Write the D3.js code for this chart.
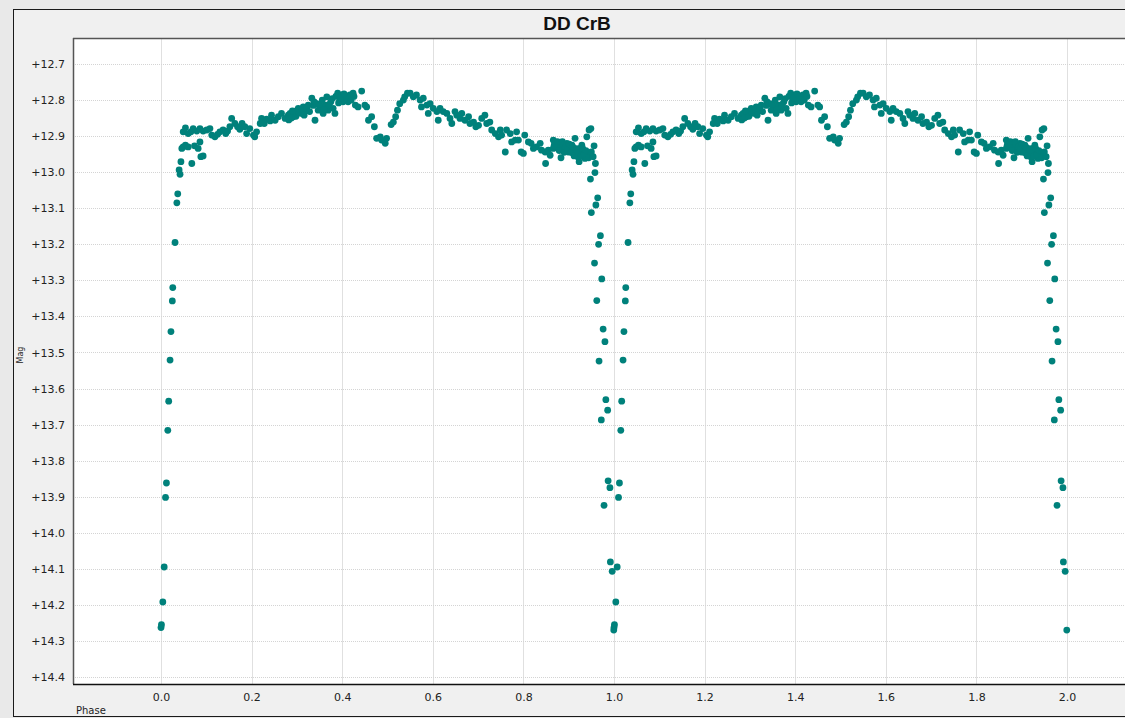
<!DOCTYPE html>
<html>
<head>
<meta charset="utf-8">
<script src="https://cdn.jsdelivr.net/npm/d3@7"></script>
<style>
  html, body { margin: 0; padding: 0; background: #e9e9e9; }
  svg { display: block; }
</style>
</head>
<body>
<svg id="chart" width="1125" height="718"></svg>
<script>
// ---- data (phase in [0,1), plotted twice: phase and phase+1) ----
const title = "DD CrB";
const xLabel = "Phase";
const yLabel = "Mag";
const phaseCycles = [0, 1];
const xTickValues = [0.0, 0.2, 0.4, 0.6, 0.8, 1.0, 1.2, 1.4, 1.6, 1.8, 2.0];
const yTickValues = [12.7, 12.8, 12.9, 13.0, 13.1, 13.2, 13.3, 13.4, 13.5, 13.6, 13.7, 13.8, 13.9, 14.0, 14.1, 14.2, 14.3, 14.4];

const phase = [
  0.000, 0.001, 0.004, 0.007, 0.010, 0.012, 0.015, 0.017, 0.020, 0.022, 0.025, 0.026, 0.031, 0.035, 0.037,
  0.040, 0.042, 0.044, 0.068, 0.046, 0.049, 0.054, 0.060, 0.074, 0.082, 0.086, 0.088, 0.093,
  0.049, 0.054, 0.060, 0.066, 0.071, 0.079, 0.086, 0.093, 0.101, 0.108, 0.112, 0.119, 0.125, 0.130,
  0.137, 0.143, 0.147, 0.152, 0.156, 0.163, 0.169, 0.174, 0.179, 0.185, 0.189, 0.196, 0.204, 0.207,
  0.211, 0.219, 0.222, 0.228, 0.233, 0.241, 0.244, 0.252, 0.259, 0.266, 0.274, 0.281,
  0.285, 0.292, 0.296, 0.303, 0.310, 0.314, 0.319, 0.325, 0.333, 0.340, 0.344, 0.347, 0.353, 0.358,
  0.362, 0.366, 0.369, 0.375, 0.380, 0.384, 0.390, 0.395, 0.399, 0.402, 0.406, 0.413, 0.417, 0.424,
  0.282, 0.288, 0.290, 0.298, 0.305, 0.312, 0.316, 0.322, 0.328, 0.336, 0.338, 0.349, 0.356, 0.360,
  0.371, 0.378, 0.386, 0.392, 0.397, 0.404, 0.410, 0.420, 0.426,
  0.429, 0.435, 0.443, 0.450, 0.454, 0.458, 0.465, 0.471, 0.476, 0.484, 0.487, 0.495, 0.498,
  0.508, 0.513, 0.518, 0.522, 0.527, 0.535, 0.538, 0.544,
  0.550, 0.557, 0.564, 0.572, 0.579, 0.575, 0.587, 0.594, 0.590, 0.601, 0.609, 0.612, 0.616, 0.623,
  0.631, 0.638, 0.642, 0.649, 0.653, 0.660, 0.664, 0.671, 0.679, 0.682, 0.690, 0.695, 0.701, 0.708,
  0.715, 0.719, 0.726, 0.730, 0.738, 0.745, 0.749, 0.752, 0.760, 0.763, 0.771, 0.774, 0.782,
  0.785, 0.789, 0.795, 0.800, 0.803, 0.811, 0.817, 0.822, 0.829, 0.837, 0.840, 0.848, 0.849, 0.855,
  0.859, 0.866, 0.866, 0.870, 0.873, 0.877, 0.881, 0.883, 0.884, 0.888, 0.892, 0.896, 0.899, 0.903,
  0.907, 0.910, 0.914, 0.915, 0.920, 0.923, 0.925, 0.929, 0.932, 0.936, 0.940, 0.942, 0.945, 0.949,
  0.868, 0.875, 0.879, 0.886, 0.890, 0.894, 0.898, 0.901, 0.905, 0.909, 0.912, 0.917, 0.921, 0.927,
  0.931, 0.934, 0.938, 0.944,
  0.950, 0.954, 0.956, 0.959, 0.958, 0.948,
  0.964, 0.960, 0.950, 0.970, 0.966, 0.957, 0.973, 0.962, 0.976, 0.980, 0.967, 0.982, 0.986, 0.972,
  0.987, 0.991, 0.978, 0.992, 0.996, 0.9995
];
const mag = [
  14.263, 14.255, 14.192, 14.095, 13.902, 13.862, 13.716, 13.635, 13.521, 13.442, 13.357, 13.320, 13.195, 13.085, 13.060,
  12.994, 13.006, 12.971, 12.976, 12.934, 12.930, 12.925, 12.930, 12.927, 12.934, 12.916, 12.957, 12.955,
  12.888, 12.877, 12.893, 12.888, 12.879, 12.886, 12.879, 12.886, 12.883, 12.879, 12.897, 12.902, 12.895, 12.888,
  12.883, 12.893, 12.886, 12.874, 12.851, 12.865, 12.874, 12.881, 12.865, 12.874, 12.893, 12.879, 12.897, 12.902,
  12.888, 12.865, 12.851, 12.865, 12.853, 12.858, 12.842, 12.856, 12.846, 12.837, 12.851, 12.842,
  12.837, 12.846, 12.831, 12.823, 12.837, 12.819, 12.828, 12.814, 12.795, 12.856, 12.810, 12.828, 12.819, 12.837,
  12.814, 12.791, 12.828, 12.805, 12.823, 12.837, 12.781, 12.800, 12.786, 12.805, 12.791, 12.805, 12.786, 12.781,
  12.855, 12.850, 12.830, 12.845, 12.835, 12.826, 12.842, 12.822, 12.832, 12.815, 12.805, 12.812, 12.800, 12.826,
  12.812, 12.796, 12.790, 12.808, 12.795, 12.783, 12.798, 12.800, 12.790,
  12.814, 12.819, 12.775, 12.814, 12.819, 12.856, 12.846, 12.874, 12.906, 12.902, 12.911, 12.920, 12.906,
  12.868, 12.861, 12.846, 12.828, 12.810, 12.800, 12.791, 12.781,
  12.781, 12.791, 12.786, 12.800, 12.795, 12.819, 12.814, 12.810, 12.837, 12.823, 12.832, 12.856, 12.823, 12.832,
  12.837, 12.851, 12.865, 12.832, 12.842, 12.851, 12.837, 12.856, 12.846, 12.865, 12.861, 12.874, 12.870, 12.851,
  12.842, 12.865, 12.861, 12.883, 12.893, 12.902, 12.883, 12.897, 12.944, 12.883, 12.893, 12.916, 12.911,
  12.888, 12.911, 12.944, 12.948, 12.897, 12.916, 12.920, 12.934, 12.930, 12.920, 12.939, 12.944, 12.976, 12.939,
  12.953, 12.911, 12.934, 12.920, 12.930, 12.934, 12.920, 12.960, 12.930, 12.925, 12.934, 12.920, 12.944, 12.934,
  12.925, 12.948, 12.906, 12.939, 12.957, 12.971, 12.934, 12.925, 12.944, 12.962, 12.902, 12.948, 12.883, 12.879,
  12.925, 12.915, 12.940, 12.915, 12.945, 12.928, 12.935, 12.922, 12.945, 12.930, 12.955, 12.935, 12.945, 12.955,
  12.935, 12.950, 12.940, 12.960,
  12.944, 12.957, 12.927, 12.976, 13.001, 13.019,
  13.071, 13.091, 13.112, 13.176, 13.200, 13.252, 13.296, 13.356, 13.435, 13.470, 13.524, 13.631, 13.660, 13.687,
  13.856, 13.875, 13.924, 14.081, 14.107, 14.270
];

// ---- layout ----
const svg = d3.select("#chart");
const W = 1125, H = 718;
const plot = { left: 73, top: 38, right: 1140, bottom: 684 };

const x = d3.scaleLinear().domain([0, 2]).range([161, 1067]);
const y = d3.scaleLinear().domain([12.7, 14.4]).range([64, 677]);

// frame
svg.append("rect").attr("x", 0).attr("y", 0).attr("width", W).attr("height", H).attr("fill", "#e9e9e9");
svg.append("rect").attr("x", 13.5).attr("y", 9.5).attr("width", W + 20).attr("height", 707)
  .attr("fill", "#f0f0f0").attr("stroke", "#1a1a1a").attr("stroke-width", 1);

// plot area
svg.append("rect").attr("x", plot.left).attr("y", plot.top)
  .attr("width", plot.right - plot.left).attr("height", plot.bottom - plot.top)
  .attr("fill", "#ffffff");

const grid = svg.append("g");
// vertical grid (solid)
grid.selectAll("line.v").data(xTickValues).join("line")
  .attr("x1", d => Math.round(x(d)) + 0.5).attr("x2", d => Math.round(x(d)) + 0.5)
  .attr("y1", plot.top).attr("y2", plot.bottom)
  .attr("stroke", "#e0e0e0").attr("stroke-width", 1);
// horizontal grid (dotted)
grid.selectAll("line.h").data(yTickValues).join("line")
  .attr("x1", plot.left).attr("x2", plot.right)
  .attr("y1", d => Math.round(y(d)) + 0.5).attr("y2", d => Math.round(y(d)) + 0.5)
  .attr("stroke", "#d4d4d4").attr("stroke-width", 1).attr("stroke-dasharray", "1,1");

// axes
const yAxis = d3.axisLeft(y).tickValues(yTickValues).tickSize(0).tickPadding(8)
  .tickFormat(d => "+" + d3.format(".1f")(d));
const yg = svg.append("g").attr("transform", `translate(${plot.left},0)`).call(yAxis);
yg.select(".domain").remove();
yg.selectAll("text").attr("font-family", "'DejaVu Sans', sans-serif").attr("font-size", 11)
  .attr("fill", "#222");

const xAxis = d3.axisBottom(x).tickValues(xTickValues).tickSize(0).tickPadding(9)
  .tickFormat(d3.format(".1f"));
const xg = svg.append("g").attr("transform", `translate(0,${plot.bottom})`).call(xAxis);
xg.select(".domain").remove();
xg.selectAll("text").attr("font-family", "'DejaVu Sans', sans-serif").attr("font-size", 11)
  .attr("fill", "#222");

// plot borders
svg.append("line").attr("x1", plot.left).attr("x2", plot.right).attr("y1", plot.top + 0.5).attr("y2", plot.top + 0.5)
  .attr("stroke", "#555").attr("stroke-width", 1.5);
svg.append("line").attr("x1", plot.left + 0.5).attr("x2", plot.left + 0.5).attr("y1", plot.top).attr("y2", plot.bottom)
  .attr("stroke", "#555").attr("stroke-width", 1.5);
svg.append("line").attr("x1", plot.left).attr("x2", plot.right).attr("y1", plot.bottom + 0.5).attr("y2", plot.bottom + 0.5)
  .attr("stroke", "#111").attr("stroke-width", 1.5);

// points
const pts = [];
phaseCycles.forEach(c => {
  phase.forEach((p, i) => pts.push({ p: p + c, m: mag[i] }));
});
svg.append("g").selectAll("circle").data(pts).join("circle")
  .attr("cx", d => x(d.p)).attr("cy", d => y(d.m)).attr("r", 3.4)
  .attr("fill", "#00817b");

// title & labels
svg.append("text").attr("x", 577).attr("y", 30).attr("text-anchor", "middle")
  .attr("font-family", "'Liberation Sans', Arial, sans-serif").attr("font-weight", "bold")
  .attr("font-size", 19).attr("fill", "#111").text(title);
svg.append("text").attr("x", 76).attr("y", 714)
  .attr("font-family", "'DejaVu Sans', sans-serif").attr("font-size", 10).attr("fill", "#222").text(xLabel);
svg.append("text").attr("transform", "translate(23,355) rotate(-90)").attr("text-anchor", "middle")
  .attr("font-family", "'DejaVu Sans', sans-serif").attr("font-size", 8).attr("fill", "#222").text(yLabel);
</script>
</body>
</html>
